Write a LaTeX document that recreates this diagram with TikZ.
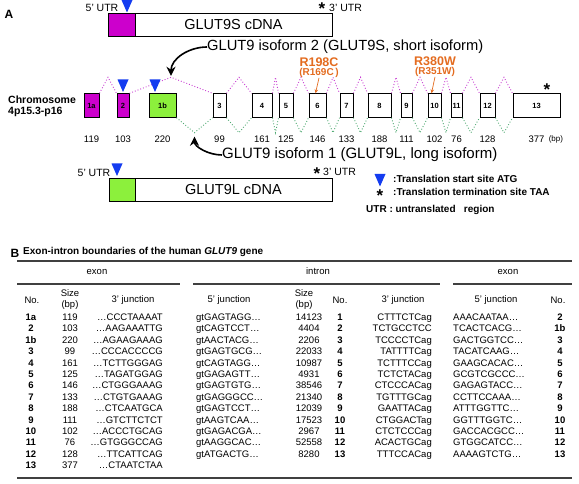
\documentclass[tikz,border=0pt]{standalone}
\usepackage{fontspec}
\setmainfont{Liberation Sans}
\usepackage{tikz}
\usetikzlibrary{calc}
\usetikzlibrary{arrows.meta,positioning}
\definecolor{exonmag}{RGB}{204,0,204}
\definecolor{exonlime}{RGB}{140,240,60}
\definecolor{atgblue}{RGB}{20,60,240}
\definecolor{mutorange}{RGB}{228,108,32}
\definecolor{shortpink}{RGB}{200,60,210}
\definecolor{longgreen}{RGB}{80,170,115}
\newcommand{\setfs}[2]{\fontsize{#1}{#2}\selectfont}

\begin{document}
\begin{tikzpicture}[x=1pt, y=-1pt, inner sep=0pt]
      \tikzstyle{exon}=[rectangle,draw,line width=0.9pt,minimum height=23.5pt,font=\setfs{7.5}{8}\bfseries]
      \tikzstyle{cdna}=[rectangle,draw,line width=1pt,outer sep=0pt,minimum height=23.5pt,font=\setfs{14.5}{15}]
      \tikzstyle{shortsplice}=[shortpink,dotted,line width=0.9pt]
      \tikzstyle{longsplice}=[longgreen,dotted,line width=0.9pt]
      \tikzstyle{bigarrow}=[line width=1.6pt,-{Stealth[length=9pt,width=9pt]}]
      \tikzstyle{mutarrow}=[mutorange,line width=0.7pt,-{Stealth[length=4pt,width=3.5pt]}]
      \tikzstyle{utrtxt}=[font=\setfs{10.5}{11}]
      \tikzstyle{starmark}=[font=\setfs{17}{17}\bfseries,text height=0.72em,text depth=-0.40em]
      \tikzstyle{isotxt}=[font=\setfs{15}{15},anchor=west]
      \tikzstyle{legendtxt}=[font=\setfs{10}{11}\bfseries,anchor=west,text height=7.5pt,text depth=2pt]
      \tikzstyle{headtxt}=[font=\setfs{9.5}{11},align=center]
      \tikzstyle{celltxt}=[font=\setfs{9.5}{11},text height=7pt,text depth=2pt]
      \tikzstyle{rule}=[black!75,line width=1.1pt]
      \tikzset{atg/.pic={\fill[atgblue] (-5.5,-12.5) -- (5.5,-12.5) -- (0,0) -- cycle;}}
      \path[use as bounding box,fill=white] (0,0) rectangle (579,484);

      \node[font=\setfs{12}{12}\bfseries] (panA) at (9,14) {A};

      \node[cdna,fill=exonmag,minimum width=27pt,anchor=west] (sutr) at (108,25) {};
      \node[cdna,minimum width=197pt,right=0pt of sutr] (scdna) {GLUT9S cDNA};
      \node[utrtxt] (s5utr) at (102,8) {5' UTR};
      \pic at (127,12.5) {atg};
      \node[starmark] (sstar) at (322,10.5) {*};
      \node[utrtxt,anchor=west] (s3utr) at (329,8) {3' UTR};

      \node[isotxt,font=\setfs{14.7}{15}] (iso2) at (207,47) {GLUT9 isoform 2 (GLUT9S, short isoform)};

      \node[font=\setfs{10.5}{11}\bfseries,align=left,anchor=west] (chrom) at (8,106) {Chromosome\\4p15.3-p16};

      \foreach \n/\l/\r/\c/\s in {1a/84/99/exonmag/119, 2/117/129/exonmag/103, 1b/149/176/exonlime/220,
          3/213/226/white/99, 4/252/272/white/161, 5/279/293/white/125, 6/309/326/white/146,
          7/340/353/white/133, 8/368/391/white/188, 9/401/412/white/111, 10/428/441/white/102,
          11/451/462/white/76, 12/480/495/white/128, 13/513/560/white/377}
      {
        \node[exon,fill=\c,minimum width={(\r-\l)*1pt}] (x\n) at ({(\l+\r)/2},105.5) {\n};
        \node[font=\setfs{9.5}{10}] (bp\n) at ({(\l+\r)/2},139) {\s};
      }
      \node[font=\setfs{8}{8},right=4pt of bp13] (bpunit) {(bp)};

      \foreach \a/\b in {1a/2,2/3,3/4,4/5,5/6,6/7,7/8,8/9,9/10,10/11,11/12,12/13}
        \draw[shortsplice] (x\a.north east) -- ($(x\a.north east)!.5!(x\b.north west)+(0,-16)$) coordinate (pk\a) -- (x\b.north west);
      \foreach \a/\b in {1b/3,3/4,4/5,5/6,6/7,7/8,8/9,9/10,10/11,11/12,12/13}
        \draw[longsplice] (x\a.south east) -- ($(x\a.south east)!.5!(x\b.south west)+(0,15)$) coordinate (vl\a) -- (x\b.south west);

      \pic at (123,92) {atg};
      \pic at (155,92) {atg};
      \node[starmark] (stop13) at (547,91.5) {*};

      \node[font=\setfs{12.5}{13}\bfseries,text=mutorange] (m6a) at (319,62) {R198C};
      \node[font=\setfs{10}{10}\bfseries,text=mutorange] (m6b) at (319,73) {(R169C\,)};
      \node[font=\setfs{12.5}{13}\bfseries,text=mutorange] (m10a) at (435,61) {R380W};
      \node[font=\setfs{10}{10}\bfseries,text=mutorange] (m10b) at (435,72) {(R351W)};
      \draw[mutarrow] (m6b.south) -- ([xshift=-2pt]x6.north);
      \draw[mutarrow] (m10b.south) -- ([xshift=-3pt]x10.north);

      \draw[bigarrow,shorten >=1.5pt] (iso2.west) to[out=180,in=90] (pk2);

      \node[isotxt] (iso1) at (222,155) {GLUT9 isoform 1 (GLUT9L, long isoform)};
      \draw[bigarrow,shorten >=4pt] (iso1.west) to[out=180,in=-90] (vl1b);

      \node[cdna,fill=exonlime,minimum width=26pt,anchor=west] (lutr) at (109,190) {};
      \node[cdna,minimum width=197pt,right=0pt of lutr] (lcdna) {GLUT9L cDNA};
      \node[utrtxt] (l5utr) at (94,173) {5' UTR};
      \pic at (117,176) {atg};
      \node[starmark] (lstar) at (317,175.5) {*};
      \node[utrtxt,anchor=west] (l3utr) at (323,172) {3' UTR};

      \pic at (380,186.5) {atg};
      \node[legendtxt] (legatg) at (393,179.5) {:Translation start site ATG};
      \node[starmark] (legstar) at (380,197.5) {*};
      \node[legendtxt] (legtaa) at (393,193) {:Translation termination site TAA};
      \node[legendtxt] (legutr) at (366,209.5) {UTR : untranslated\ \ \ region};

      \node[font=\setfs{12}{12}\bfseries] (panB) at (15,253) {B};
      \node[font=\setfs{10}{10}\bfseries,anchor=west] (btitle) at (23,252) {Exon-intron boundaries of the human \textit{GLUT9} gene};
      \draw[rule] (17,261) -- (572,261);
      \node[celltxt] (hexon) at (97,272) {exon};
      \node[celltxt] (hintron) at (318,272) {intron};
      \node[celltxt] (hexon2) at (508,272) {exon};
      \draw[rule] (17,284) -- (180,284);
      \draw[rule] (193,284) -- (440,284);
      \draw[rule] (453,284) -- (572,284);
      \draw[rule] (17,478) -- (572,478);

      \node[headtxt] (hno) at (32,300) {No.};
      \node[headtxt] (hsize) at (70,300) {Size\\(bp)};
      \node[headtxt] (hthree) at (133,300) {3' junction};
      \node[headtxt] (hfive) at (229,300) {5' junction};
      \node[headtxt] (hisize) at (304,300) {Size\\(bp)};
      \node[headtxt] (hino) at (340,300) {No.};
      \node[headtxt] (hithree) at (403,300) {3' junction};
      \node[headtxt] (hxfive) at (496,300) {5' junction};
      \node[headtxt] (hxno) at (558,300) {No.};

      \foreach \na/\sz/\tj/\fj/\isz/\ino/\itj/\xfj/\xno [count=\k] in {
          1a/119/CCCTAAAAT/GAGTAGG/14123/1/CTTTCTCag/AAACAATAA/2,
          2/103/AAGAAATTG/CAGTCCT/4404/2/TCTGCCTCC/TCACTCACG/1b,
          1b/220/AGAAGAAAG/AACTACG/2206/3/TCCCCTCag/GACTGGTCC/3,
          3/99/CCCACCCCG/GAGTGCG/22033/4/TATTTTCag/TACATCAAG/4,
          4/161/TCTTGGGAG/CAGTAGG/10987/5/TCTTTCCag/GAAGCACAC/5,
          5/125/TAGATGGAG/GAGAGTT/4931/6/TCTCTACag/GCGTCGCCC/6,
          6/146/CTGGGAAAG/GAGTGTG/38546/7/CTCCCACag/GAGAGTACC/7,
          7/133/CTGTGAAAG/GAGGGCC/21340/8/TGTTTGCag/CCTTCCAAA/8,
          8/188/CTCAATGCA/GAGTCCT/12039/9/GAATTACag/ATTTGGTTC/9,
          9/111/GTCTTCTCT/AAGTCAA/17523/10/CTGGACTag/GGTTTGGTC/10,
          10/102/ACCCTGCAG/GAGACGA/2967/11/CTCTCCCag/GACCACGCC/11,
          11/76/GTGGGCCAG/AAGGCAC/52558/12/ACACTGCag/GTGGCATCC/12,
          12/128/TTCATTCAG/ATGACTG/8280/13/TTTCCACag/AAAAGTCTG/13}
      {
        \pgfmathsetmacro{\ry}{318+(\k-1)*11.4}
        \node[celltxt,font=\setfs{9.5}{11}\bfseries] (no\k) at (31,\ry) {\na};
        \node[celltxt] (sz\k) at (70,\ry) {\sz};
        \node[celltxt,anchor=east] (tj\k) at (163,\ry) {\dots\tj};
        \node[celltxt,anchor=west] (fj\k) at (196,\ry) {gt\fj\dots};
        \node[celltxt] (isz\k) at (309,\ry) {\isz};
        \node[celltxt,font=\setfs{9.5}{11}\bfseries] (ino\k) at (340,\ry) {\ino};
        \node[celltxt,anchor=east] (itj\k) at (432,\ry) {\itj};
        \node[celltxt,anchor=west] (xfj\k) at (453,\ry) {\xfj\dots};
        \node[celltxt,font=\setfs{9.5}{11}\bfseries] (xno\k) at (560,\ry) {\xno};
      }
      \node[celltxt,font=\setfs{9.5}{11}\bfseries] (no14) at (31,466.2) {13};
      \node[celltxt] (sz14) at (70,466.2) {377};
      \node[celltxt,anchor=east] (tj14) at (163,466.2) {\dots CTAATCTAA};

\end{tikzpicture}
\end{document}
